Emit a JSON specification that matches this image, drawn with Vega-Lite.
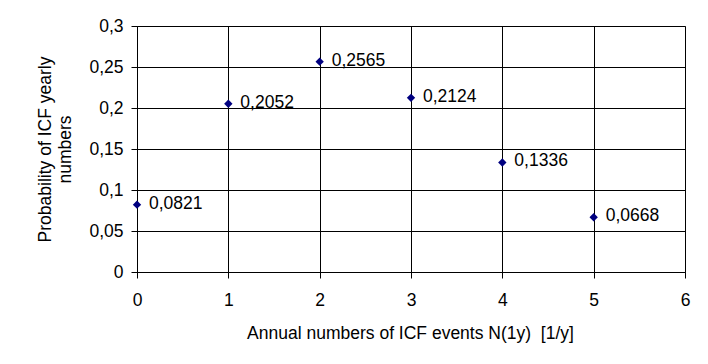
{
  "$schema": "https://vega.github.io/schema/vega-lite/v6.json",
  "width": 548,
  "height": 246,
  "autosize": {"type": "none"},
  "padding": {"left": 137, "top": 26, "right": 23, "bottom": 92},
  "background": "white",
  "config": {
    "locale": {"number": {"decimal": ",", "thousands": " ", "grouping": [3], "currency": ["", ""]}},
    "font": "Liberation Sans",
    "view": {"stroke": "#808080", "strokeWidth": 1},
    "axis": {
      "labelFont": "Liberation Sans",
      "titleFont": "Liberation Sans",
      "labelFontSize": 17.5,
      "titleFontSize": 17.5,
      "labelColor": "#000000",
      "titleColor": "#000000",
      "titleFontWeight": "normal",
      "domainColor": "#000000",
      "tickColor": "#000000",
      "gridColor": "#000000",
      "gridOpacity": 1,
      "gridWidth": 1,
      "tickSize": 6,
      "domainWidth": 1
    }
  },
  "data": {
    "values": [
      {"n": 0, "p": 0.0821},
      {"n": 1, "p": 0.2052},
      {"n": 2, "p": 0.2565},
      {"n": 3, "p": 0.2124},
      {"n": 4, "p": 0.1336},
      {"n": 5, "p": 0.0668}
    ]
  },
  "encoding": {
    "x": {
      "field": "n",
      "type": "quantitative",
      "scale": {"domain": [0, 6], "nice": false, "zero": false},
      "axis": {
        "values": [0, 1, 2, 3, 4, 5, 6],
        "format": "d",
        "grid": true,
        "labelPadding": 13,
        "labelBaseline": "top",
        "labelFlush": false,
        "title": "Annual numbers of ICF events N(1y)\u00a0 [1/y]",
        "titleBaseline": "alphabetic",
        "titleX": 273,
        "titleY": 66,
        "titleAnchor": "middle"
      }
    },
    "y": {
      "field": "p",
      "type": "quantitative",
      "scale": {"domain": [0, 0.3], "nice": false},
      "axis": {
        "values": [0, 0.05, 0.1, 0.15, 0.2, 0.25, 0.3],
        "format": ".2~f",
        "grid": true,
        "labelPadding": 8,
        "labelFlush": false,
        "title": ["Probability of ICF yearly", "numbers"],
        "titleBaseline": "alphabetic",
        "titleLineHeight": 20,
        "titleAngle": -90,
        "titleX": -87,
        "titleY": 123,
        "titleAnchor": "middle"
      }
    }
  },
  "layer": [
    {
      "mark": {"type": "point", "shape": "diamond", "filled": true, "size": 70, "color": "#000080", "opacity": 1}
    },
    {
      "mark": {"type": "text", "align": "left", "baseline": "middle", "dx": 12, "dy": -1, "fontSize": 17.5, "font": "Liberation Sans", "color": "#000000"},
      "encoding": {
        "text": {"field": "p", "type": "quantitative", "format": ".4f"}
      }
    }
  ]
}
